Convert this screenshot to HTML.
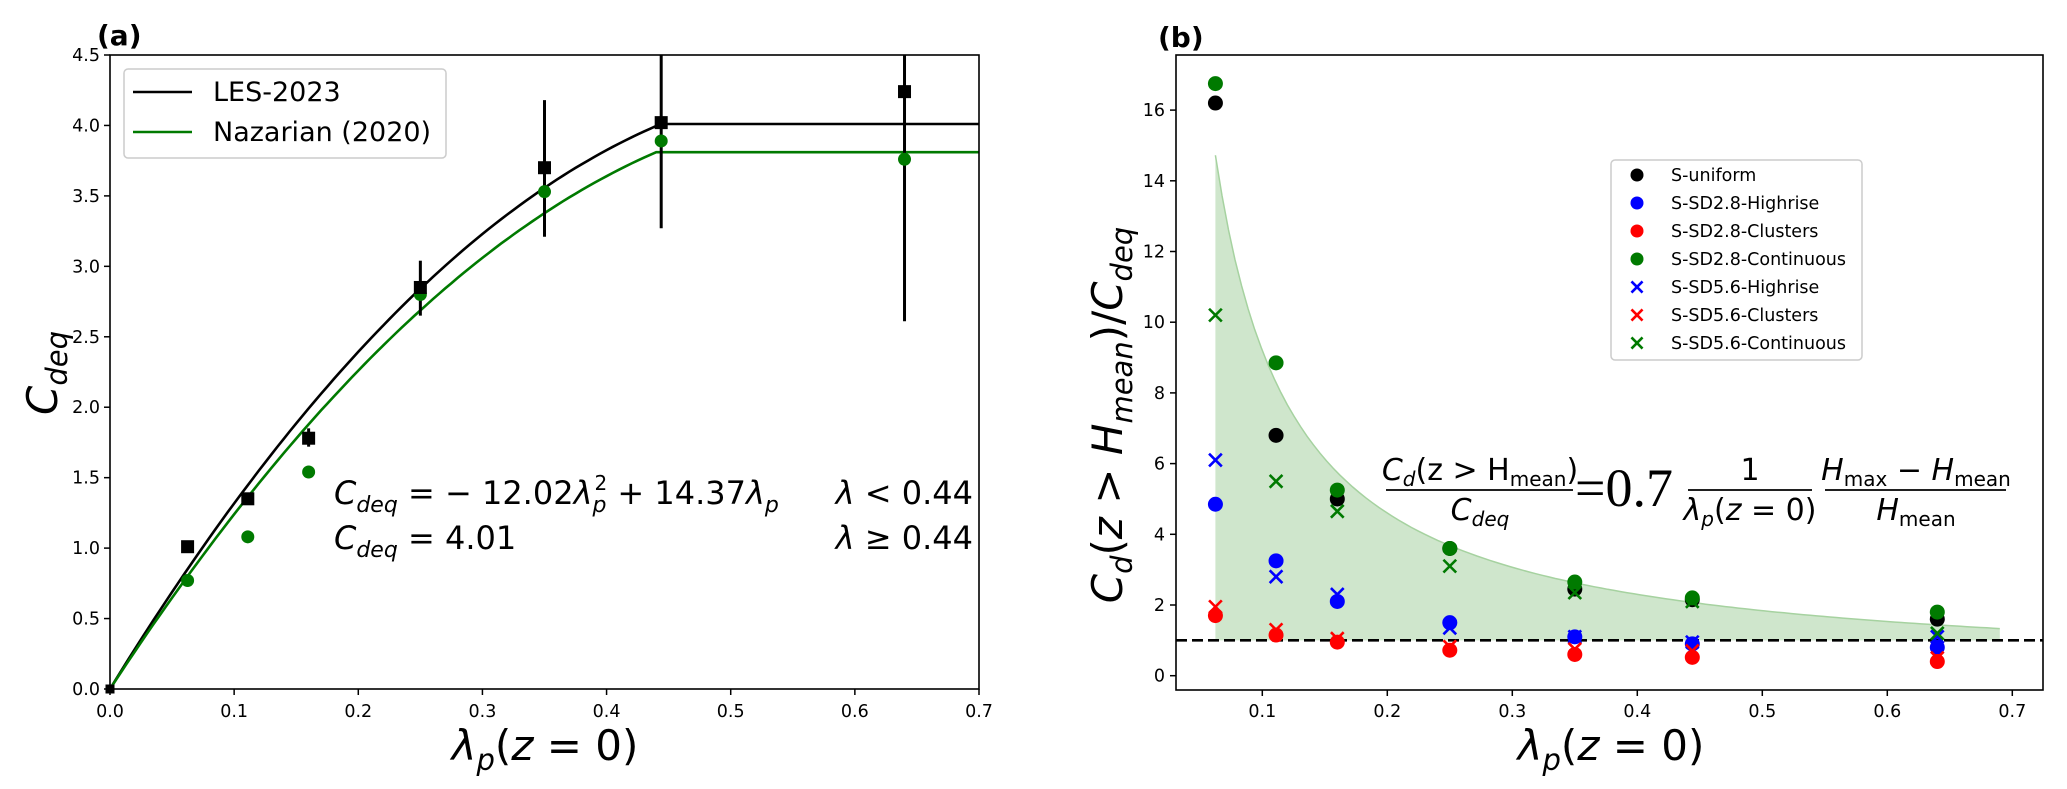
<!DOCTYPE html>
<html><head><meta charset="utf-8"><style>
html,body{margin:0;padding:0;background:#fff;}
svg{display:block;font-family:"DejaVu Sans","Liberation Sans",sans-serif;}
</style></head><body>
<svg id="fig" width="2067" height="789" viewBox="0 0 2067 789" xmlns="http://www.w3.org/2000/svg">
  <g id="pa"></g>
  <g id="pb"></g>
</svg>
<script>
// ---------- Panel (a) data ----------
const aX = [0.0, 0.0625, 0.111, 0.16, 0.25, 0.35, 0.444, 0.64];
const lesY = [0.0, 1.01, 1.35, 1.78, 2.85, 3.70, 4.02, 4.24];
const lesErrLo = [0, 0, 0, 1.72, 2.65, 3.21, 3.27, 2.61];
const lesErrHi = [0, 0, 0, 1.85, 3.04, 4.18, 4.70, 4.70];
const nazX = [0.0625, 0.111, 0.16, 0.25, 0.35, 0.444, 0.64];
const nazY = [0.77, 1.08, 1.54, 2.80, 3.53, 3.89, 3.76];
const lesCoef = [-12.02, 14.37, 4.01]; // a, b, plateau
const nazCoef = [-11.0, 13.5, 3.81];
const aXTicks = [0,0.1,0.2,0.3,0.4,0.5,0.6,0.7];
const aYTicks = [0,0.5,1,1.5,2,2.5,3,3.5,4,4.5];

// ---------- Panel (b) data ----------
const bX = [0.0625, 0.111, 0.16, 0.25, 0.35, 0.444, 0.64];
const sUniform = [16.2, 6.8, 5.0, 3.6, 2.45, 2.15, 1.6];
const sd28High = [4.85, 3.25, 2.1, 1.5, 1.1, 0.9, 0.8];
const sd28Clus = [1.7, 1.15, 0.95, 0.72, 0.6, 0.52, 0.4];
const sd28Cont = [16.75, 8.85, 5.25, 3.6, 2.65, 2.2, 1.8];
const sd56High = [6.1, 2.8, 2.3, 1.35, 1.1, 0.95, 1.1];
const sd56Clus = [1.95, 1.3, 1.05, 0.82, 0.75, 0.7, 0.5];
const sd56Cont = [10.2, 5.5, 4.65, 3.1, 2.35, 2.1, 1.2];
const bandCoef = 0.92;
const bandRange = [0.0625, 0.69];
const bXTicks = [0.1,0.2,0.3,0.4,0.5,0.6,0.7];
const bYTicks = [0,2,4,6,8,10,12,14,16];
const bSeriesNames = ["S-uniform","S-SD2.8-Highrise","S-SD2.8-Clusters","S-SD2.8-Continuous","S-SD5.6-Highrise","S-SD5.6-Clusters","S-SD5.6-Continuous"];

const NS = "http://www.w3.org/2000/svg";
function mk(parent, tag, attrs, text){
  const el = document.createElementNS(NS, tag);
  for (const k in attrs) el.setAttribute(k, attrs[k]);
  if (text !== undefined) el.textContent = text;
  parent.appendChild(el);
  return el;
}

// ===== Panel A =====
const pa = document.getElementById('pa');
const aL=110, aR=979, aT=55, aB=689;
const ax = v => aL + (v-0)/0.7*(aR-aL);
const ay = v => aB - v/4.5*(aB-aT);

function curve(coef){
  let d=""; for(let i=0;i<=140;i++){const x=0.7*i/140; const y = x<0.44 ? coef[0]*x*x+coef[1]*x : coef[2]; d+=(i?"L":"M")+ax(x).toFixed(1)+" "+ay(y).toFixed(1);} return d;
}
let e;
e = mk(pa,'path',{d:curve(lesCoef),fill:'none',stroke:'#000','stroke-width':2.6});
 
e = mk(pa,'path',{d:curve(nazCoef),fill:'none',stroke:'#007a00','stroke-width':2.6});
 

for(let i=0;i<aX.length;i++){
  if(lesErrHi[i]>lesErrLo[i]){
    e = mk(pa,'line',{x1:ax(aX[i]),x2:ax(aX[i]),y1:Math.max(aT,ay(lesErrHi[i])),y2:ay(lesErrLo[i]),stroke:'#000','stroke-width':3});
     
  }
}
for(let i=0;i<nazX.length;i++){
  e = mk(pa,'circle',{cx:ax(nazX[i]),cy:ay(nazY[i]),r:6.5,fill:'#007a00'});
   
}
for(let i=0;i<aX.length;i++){
  const s = i===0?9:13;
  e = mk(pa,'rect',{x:ax(aX[i])-s/2,y:ay(lesY[i])-s/2,width:s,height:s,fill:'#000'});
   
}
e = mk(pa,'rect',{x:aL,y:aT,width:aR-aL,height:aB-aT,fill:'none',stroke:'#000','stroke-width':1.6});
 
aXTicks.forEach(t=>{
  mk(pa,'line',{x1:ax(t),x2:ax(t),y1:aB,y2:aB+6,stroke:'#000','stroke-width':1.5});
  const tl = mk(pa,'text',{x:ax(t),y:717,'font-size':17.5,'text-anchor':'middle'},t.toFixed(1));
   
});
aYTicks.forEach(t=>{
  mk(pa,'line',{x1:aL-6,x2:aL,y1:ay(t),y2:ay(t),stroke:'#000','stroke-width':1.5});
  const tl = mk(pa,'text',{x:aL-10,y:ay(t)+6,'font-size':17.5,'text-anchor':'end'},t.toFixed(1));
   
});
e = mk(pa,'rect',{x:124,y:69,width:322,height:89,rx:4,fill:'#fff',stroke:'#ccc','stroke-width':1.5});
 
mk(pa,'line',{x1:133,x2:192,y1:92,y2:92,stroke:'#000','stroke-width':2.6});
e = mk(pa,'text',{x:213,y:101,'font-size':27},'LES-2023');
 
mk(pa,'line',{x1:133,x2:192,y1:132,y2:132,stroke:'#007a00','stroke-width':2.6});
e = mk(pa,'text',{x:213,y:141,'font-size':27},'Nazarian (2020)');
 

// ===== Panel B =====
const pb = document.getElementById('pb');
const bL=1176, bR=2043, bT=55, bB=690;
const bx = v => 1262.3 + (v-0.1)*1250;
const by = v => 675.7 - v*35.35;
let f;
let bandPath = "M"+bx(bandRange[0]).toFixed(1)+" "+by(1).toFixed(1);
let topPath = "";
for(let i=0;i<=120;i++){const x=bandRange[0]+(bandRange[1]-bandRange[0])*i/120; const y=bandCoef/x; bandPath+="L"+bx(x).toFixed(1)+" "+by(y).toFixed(1); topPath+=(i?"L":"M")+bx(x).toFixed(1)+" "+by(y).toFixed(1);}
bandPath += "L"+bx(bandRange[1]).toFixed(1)+" "+by(1).toFixed(1)+"Z";
f = mk(pb,'path',{d:bandPath,fill:'#cfe6cc',stroke:'none'});
 
f = mk(pb,'path',{d:topPath,fill:'none',stroke:'#a6d2a0','stroke-width':1.5});
 
f = mk(pb,'line',{x1:bL,x2:bR,y1:by(1),y2:by(1),stroke:'#000','stroke-width':2.6,'stroke-dasharray':'11,5'});
 

const seriesList = [[sUniform,'#000','o'],[sd28High,'#0000ff','o'],[sd28Clus,'#ff0000','o'],[sd28Cont,'#007a00','o'],[sd56High,'#0000ff','x'],[sd56Clus,'#ff0000','x'],[sd56Cont,'#007a00','x']];
function marker(g,cx,cy,col,kind,r){
  if(kind==='o'){ return mk(g,'circle',{cx:cx,cy:cy,r:r,fill:col}); }
  const gg = mk(g,'g',{});
  const h=r*0.85;
  mk(gg,'line',{x1:cx-h,y1:cy-h,x2:cx+h,y2:cy+h,stroke:col,'stroke-width':2.6});
  mk(gg,'line',{x1:cx-h,y1:cy+h,x2:cx+h,y2:cy-h,stroke:col,'stroke-width':2.6});
  return gg;
}
seriesList.forEach((s,si)=>{
  s[0].forEach((v,i)=>{
    const m = marker(pb,bx(bX[i]),by(v),s[1],s[2],7.5);
    
    
  });
});
f = mk(pb,'rect',{x:bL,y:bT,width:bR-bL,height:bB-bT,fill:'none',stroke:'#000','stroke-width':1.6});
 
bXTicks.forEach(t=>{
  mk(pb,'line',{x1:bx(t),x2:bx(t),y1:bB,y2:bB+6,stroke:'#000','stroke-width':1.5});
  const tl = mk(pb,'text',{x:bx(t),y:717,'font-size':17.5,'text-anchor':'middle'},t.toFixed(1));
   
});
bYTicks.forEach(t=>{
  mk(pb,'line',{x1:bL-6,x2:bL,y1:by(t),y2:by(t),stroke:'#000','stroke-width':1.5});
  const tl = mk(pb,'text',{x:bL-11,y:by(t)+6,'font-size':17.5,'text-anchor':'end'},String(t));
   
});
f = mk(pb,'rect',{x:1611,y:160,width:251,height:200,rx:4,fill:'#fff',stroke:'#ccc','stroke-width':1.5});
 
seriesList.forEach((s,si)=>{
  const yy = 175 + si*28;
  marker(pb,1637,yy,s[1],s[2],6.5);
  const lt = mk(pb,'text',{x:1671,y:yy+6,'font-size':17.5},bSeriesNames[si]);
   
});
const eq = mk(pb,'g',{'font-size':30});
 
eq.innerHTML =
 '<text x="1480" y="480" text-anchor="middle"><tspan font-style="italic">C</tspan><tspan font-style="italic" font-size="20" dy="6">d</tspan><tspan dy="-6">(z &gt; H</tspan><tspan font-size="20" dy="6">mean</tspan><tspan dy="-6">)</tspan></text>'+
 '<line x1="1386" x2="1573" y1="490" y2="490" stroke="#000" stroke-width="1.8"/>'+
 '<text x="1480" y="520" text-anchor="middle"><tspan font-style="italic">C</tspan><tspan font-style="italic" font-size="20" dy="6">deq</tspan></text>'+
 '<text x="1575" y="506" font-size="54" font-family="Liberation Serif, serif">=0.7</text>'+
 '<text x="1750" y="480" text-anchor="middle">1</text>'+
 '<line x1="1688" x2="1812" y1="490" y2="490" stroke="#000" stroke-width="1.8"/>'+
 '<text x="1750" y="520" text-anchor="middle"><tspan font-style="italic">λ</tspan><tspan font-style="italic" font-size="20" dy="6">p</tspan><tspan dy="-6">(</tspan><tspan font-style="italic">z</tspan> = 0)</text>'+
 '<text x="1916" y="480" text-anchor="middle"><tspan font-style="italic">H</tspan><tspan font-size="20" dy="6">max</tspan><tspan dy="-6"> − </tspan><tspan font-style="italic">H</tspan><tspan font-size="20" dy="6">mean</tspan></text>'+
 '<line x1="1825" x2="2006" y1="490" y2="490" stroke="#000" stroke-width="1.8"/>'+
 '<text x="1916" y="520" text-anchor="middle"><tspan font-style="italic">H</tspan><tspan font-size="20" dy="6">mean</tspan></text>';
</script>
<svg style="position:absolute;left:0;top:0" width="2067" height="789">
  <text x="97" y="45" font-size="28" font-weight="bold" font-family="DejaVu Sans, sans-serif">(a)</text>
  <text x="1158" y="47" font-size="28" font-weight="bold" font-family="DejaVu Sans, sans-serif">(b)</text>
  <g font-family="DejaVu Sans, sans-serif" font-size="32">
    <text x="334" y="504"><tspan font-style="italic">C</tspan><tspan font-style="italic" font-size="22" dy="8">deq</tspan><tspan dy="-8"> = − 12.02</tspan><tspan font-style="italic">λ</tspan><tspan font-style="italic" font-size="22" dy="8">p</tspan><tspan font-size="20" dx="-12" dy="-22">2</tspan><tspan dy="14"> + 14.37</tspan><tspan font-style="italic">λ</tspan><tspan font-style="italic" font-size="22" dy="8">p</tspan></text>
    <text x="973" y="504" text-anchor="end"><tspan font-style="italic">λ</tspan> &lt; 0.44</text>
    <text x="334" y="549"><tspan font-style="italic">C</tspan><tspan font-style="italic" font-size="22" dy="8">deq</tspan><tspan dy="-8"> = 4.01</tspan></text>
    <text x="973" y="549" text-anchor="end"><tspan font-style="italic">λ</tspan> ≥ 0.44</text>
  </g>
  <text transform="translate(57,373) rotate(-90)" text-anchor="middle" font-size="42" font-family="DejaVu Sans, sans-serif"><tspan font-style="italic">C</tspan><tspan font-style="italic" font-size="29" dy="10">deq</tspan></text>
  <text x="545" y="760" text-anchor="middle" font-size="42" font-family="DejaVu Sans, sans-serif"><tspan font-style="italic">λ</tspan><tspan font-style="italic" font-size="29" dy="10">p</tspan><tspan dy="-10">(</tspan><tspan font-style="italic">z</tspan> = 0)</text>
  <text x="1611" y="760" text-anchor="middle" font-size="42" font-family="DejaVu Sans, sans-serif"><tspan font-style="italic">λ</tspan><tspan font-style="italic" font-size="29" dy="10">p</tspan><tspan dy="-10">(</tspan><tspan font-style="italic">z</tspan> = 0)</text>
  <text transform="translate(1122,415) rotate(-90)" text-anchor="middle" font-size="42" font-family="DejaVu Sans, sans-serif"><tspan font-style="italic">C</tspan><tspan font-style="italic" font-size="29" dy="10">d</tspan><tspan dy="-10">(</tspan><tspan font-style="italic">z</tspan> &gt; <tspan font-style="italic">H</tspan><tspan font-style="italic" font-size="29" dy="10">mean</tspan><tspan dy="-10">)/</tspan><tspan font-style="italic">C</tspan><tspan font-style="italic" font-size="29" dy="10">deq</tspan></text>
</svg>
</body></html>
